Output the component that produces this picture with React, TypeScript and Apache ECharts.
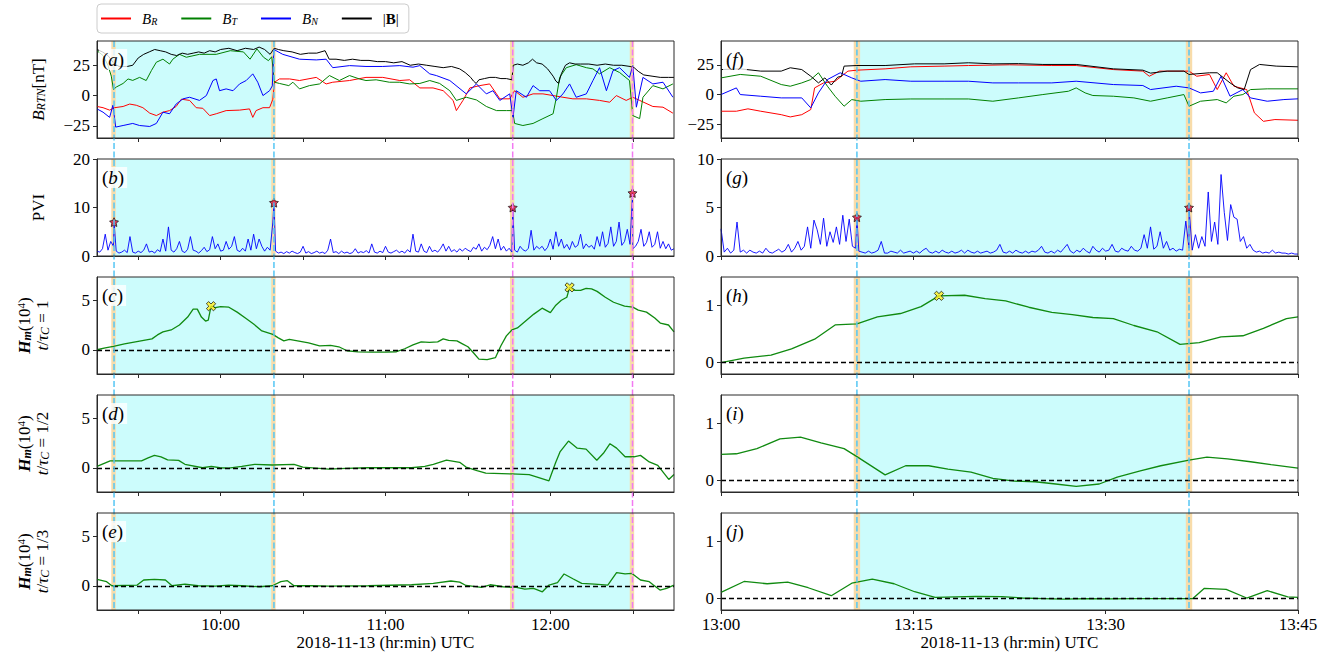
import React, { useEffect, useRef } from 'react';
import * as echarts from 'echarts';

// ---------------- DATA ----------------
// times are minutes of day (2018-11-13 UTC)
const LEFT_RANGE = [555, 765]; // 09:15 - 12:45
const RIGHT_RANGE = [780, 825]; // 13:00 - 13:45
const LEFT_TICKS = [570, 600, 630, 660, 690, 720, 750];
const LEFT_LABELS = [600, 660, 720];
const RIGHT_TICKS = [780, 795, 810, 825];
const RIGHT_LABELS = [780, 795, 810, 825];

const EVENTS_LEFT_BLUE = [561.2, 619.4];
const EVENTS_LEFT_MAGENTA = [706.3, 749.9];
const EVENTS_RIGHT_BLUE = [790.6, 816.5];

// Panel (a)
const BR_L = [[555,-9],[557.2,-10],[559.6,-12],[561.4,-10],[564.5,-9],[566.9,-7],[569.3,-8],[571.7,-10],[574.2,-14.5],[576.6,-16.5],[579,-13.7],[581.4,-12.4],[583.8,-9],[585.7,-3],[588.7,-4],[591.1,-10],[593.5,-10.5],[596,-16.5],[598.4,-15],[602,-12.4],[606.9,-12],[610.5,-11],[611.7,-18],[612.9,-12.4],[615.4,-10],[617.8,-10],[619,-3],[619.6,11],[621.4,13.7],[625.1,13.7],[628.7,12.4],[634.8,15],[638.4,9.6],[640.8,11],[646.9,12.4],[652.9,15],[659,15],[665.2,12.4],[668.8,13],[672.5,6.3],[677.3,6.3],[681,4],[684.6,-4],[685.8,-12.4],[688.2,-4],[690.7,6.3],[694.3,8.2],[697.9,9.6],[700.4,1.4],[701.6,-2.7],[705.2,-2.7],[707,4],[710,-1.4],[713.7,1.4],[717.3,1.4],[721,0],[724.6,-1.4],[728.2,-2.7],[733.1,-2.7],[737.9,-4],[741.6,-5.5],[744,0],[747.6,-4],[750,-1.4],[752.5,-4],[757.3,-9],[761,-9.6],[764.6,-14.5]];
const BT_L = [[555,37],[557.2,33],[559,25],[560.2,16],[561,5],[562,7],[564.5,10],[566.3,13.7],[568,12.5],[570.5,15],[572.9,12.4],[574.8,20.6],[576.6,27.5],[579,30],[581.4,26],[582.6,30],[585,34],[587.5,31.6],[592.3,34],[598.4,34],[603.5,37],[608.3,36],[610.7,30],[613.2,38.5],[615.6,31.6],[617.4,28.8],[618.6,32],[619.6,11],[621.4,10],[624.8,8.2],[626.3,11],[628.7,5.5],[632.3,8.2],[636,9.6],[639.6,16.5],[643.2,12.4],[646.9,16.5],[650.5,13.7],[652.9,12.4],[656.6,13],[661.4,11],[665.2,11],[668.8,9.6],[672.5,10],[676.1,12.4],[679.7,10],[683.4,4],[685.8,-4],[689.4,-1.4],[693.1,-3.6],[696.7,-9],[700.4,-12.4],[704,-12.4],[706.2,-12.4],[707,-23],[710,-24.7],[713.7,-23],[717.3,-19],[721,-15],[722.2,-1.4],[723.4,15],[725.8,23],[729.4,25.5],[733.1,23],[735.5,22],[737.9,17.9],[741.6,23],[745.2,19],[748.8,12.4],[750,-16.5],[752.5,-19],[753.7,-1.4],[757.3,8.2],[761,5.5],[764.6,9.6]];
const BN_L = [[555,-11],[557.2,-13.7],[559.6,-18],[560.8,-8],[561.8,-26],[564.5,-24.7],[568,-23],[570.5,-24.7],[574.2,-25.5],[576.6,-23],[579,-13.7],[581.4,-15],[583.8,-7],[586.3,-2.7],[588.7,-1.4],[592.3,-4],[594.8,0],[597.2,12.4],[598.4,13.7],[599.6,4],[602,5.5],[604.5,4],[606.9,9.6],[609.3,12.4],[611.7,17.9],[613.5,11],[615.4,0],[617.8,4],[618.8,8],[619.4,38],[622.6,34],[628.7,30],[634.8,29.4],[638.4,30],[640.8,23],[646.9,24.7],[652.9,24],[659,24],[665.2,24.7],[670,23.4],[672.5,24.7],[676.1,17.9],[678.5,16.5],[683.4,12.4],[689.4,1.4],[693.1,9.6],[696.7,1.4],[699.1,4],[701.6,-4],[705.2,1.4],[706.4,-18],[707.6,4],[711.3,-1.4],[713.7,8.2],[716.1,4],[719.7,4],[722.2,-4],[724.6,1.4],[727,9.6],[729.4,-1.4],[733.1,1.4],[735.5,12.4],[737.9,23],[740.4,4],[742.8,20.6],[745.2,23],[748.8,15],[750,24.7],[751.3,-9.6],[753.7,15],[757.3,9.6],[761,11],[764.6,-1.4]];
const BMAG_L = [[555,38],[557,36],[559,33],[561,27],[563,24],[566,24],[568,25],[570,31],[572,34],[574,36],[576,38],[578,37],[580,36],[582,34],[584,33],[586,35],[588,34],[590,35],[592,36],[594,35],[596,37],[598,36],[600,38],[603,39],[606,37],[609,39],[612,38],[614,40],[616,38],[618,34],[619.5,39],[621,38],[623,37],[626,36],[629,34],[632,35],[635,35],[638,37],[639.5,30],[642,30],[645,29],[648,30],[651,29],[654,29],[657,28],[660,28],[663,27],[666,28],[669,25],[672,26],[675,25],[678,24],[681,23],[684,24],[687,22],[689,19],[691,15],[692,12],[693,10],[694,13],[696,14],[698,15],[700,15],[702,14],[704,14],[706,13],[706.5,25],[708,26],[710,25],[712,27],[713.5,30],[715,27],[717,26],[719,22],[721,16],[722,12],[723,10],[724,18],[725.5,25],[727,27],[729,26],[731,26],[734,26],[737,25],[740,26],[743,25],[746,25],[749,24],[750.5,23],[752,20],[754,17],[757,16],[760,15],[763,15],[765,15]];

// Panel (f)
const BR_R = [[780,-14],[781.2,-14],[782.1,-12],[783.1,-14],[784.7,-16.9],[785.4,-18.8],[786.3,-16.9],[787,-12.6],[787.3,5.6],[788,9.8],[788.9,11.2],[789.9,19.7],[790.6,20.5],[792.8,21.6],[794.8,23.3],[797.4,23.9],[799.3,24.4],[802.5,25],[805.8,24.4],[807.7,24.4],[810.6,21],[812.9,19.7],[813.4,15.4],[814.2,19.7],[816.5,19.7],[817.1,15.4],[818.1,16.9],[818.7,4.2],[819.4,18.3],[820,7],[821,4.2],[821.6,-15.4],[822.3,-22.5],[823.2,-21],[825,-21.6]];
const BT_R = [[780,14],[781.5,16.9],[783.1,15.4],[784.7,8.4],[785.4,7],[786.3,9.8],[787,12.6],[787.6,18.3],[788.3,7],[788.9,-1.4],[789.6,-9.8],[790.2,-4.2],[790.9,-5.6],[792.8,-4.2],[794.8,-3.7],[797.4,-3.7],[799.3,-3.7],[801.2,-5.6],[803.2,-2.8],[805.1,0],[807.1,2.8],[807.7,5.6],[808.4,1.4],[809,-0.8],[810.6,-1.4],[812.2,-2.8],[813.5,-5.6],[814.8,-2.8],[816.1,0],[816.5,-9.8],[817.4,-5.6],[818.7,-4.2],[819.4,-7],[820,-1.4],[820.7,0],[821.3,4.2],[822.6,4.8],[825,4.8]];
const BN_R = [[780,0],[781.2,5.6],[781.5,0],[783.1,-1.4],[784.7,-2.8],[786.3,-2.8],[787,-11.2],[787.6,1.4],[788.3,12.6],[789.3,18.3],[790.2,14],[790.9,11.2],[792.8,12.6],[794.8,11.2],[797.4,11.2],[799.3,11.2],[801.2,9.8],[803.2,9.8],[805.8,9.8],[807.7,11.2],[810.6,8.4],[812.9,7.6],[813.5,4.2],[815.5,7],[816.5,5.6],[817.4,1.4],[818.4,2.8],[819,15.4],[819.7,-1.4],[820.7,4.2],[821.3,-2.8],[822.6,-5.6],[823.9,-4.2],[825,-3.6]];
const BMAG_R = [[780,21],[781.5,21.6],[783.1,19.7],[784.7,19.7],[785.4,22.5],[786.3,21],[787,15.4],[787.6,9.8],[788.1,14],[788.6,8],[789.1,14.6],[789.4,15.4],[789.6,23.9],[790.6,24.4],[792.8,24.4],[795.1,25.8],[797.4,25.8],[799.3,26.7],[801.2,25.8],[803.2,26],[805.1,25.3],[807.7,25.3],[810.6,21.6],[812.9,20.5],[813.5,18],[814.8,19.7],[816.1,19.7],[816.5,16.9],[818.1,18.3],[818.7,18.3],[819.7,9.8],[820.3,5.6],[820.8,4.2],[821.3,21],[822,25.3],[823.3,23.9],[825,23.3]];

// Panel (b): PVI, one value per minute from 09:15
const PVI_L_START = 555;
const PVI_L_STEP = 1;
const PVI_L = [
  1.0,0.8,1.5,4.5,1.2,3.0,2.0,1.0,0.6,0.8,
  1.2,0.7,4.0,0.8,0.6,1.0,0.7,1.2,2.5,0.8,
  1.0,0.6,1.3,0.9,3.5,1.0,6.0,1.2,0.8,1.5,
  3.0,1.0,0.7,1.4,4.0,1.2,1.0,0.6,1.1,1.8,
  0.9,1.3,4.0,1.5,2.5,1.0,1.2,3.0,1.4,2.0,
  4.0,1.2,0.9,1.6,1.0,3.5,1.2,4.5,1.5,3.5,
  2.0,1.0,1.8,1.2,7.0,1.0,0.6,0.8,0.5,0.9,
  0.6,1.0,0.7,0.5,0.8,2.0,0.6,0.9,0.5,0.7,
  1.0,0.6,0.8,0.5,1.2,3.5,0.7,0.9,0.5,1.0,
  0.6,0.8,0.5,0.7,1.5,0.6,0.9,0.7,1.1,0.6,
  2.5,0.8,0.6,1.0,0.7,2.0,0.8,0.6,0.9,1.2,
  0.7,1.0,0.6,1.3,0.8,4.5,1.0,0.8,2.5,1.0,
  0.7,2.0,0.9,1.2,0.8,1.5,2.5,1.0,2.0,0.9,
  1.3,0.8,1.5,1.0,1.6,1.2,0.9,1.8,1.4,2.5,
  1.0,1.8,1.3,2.2,4.0,1.5,3.5,1.2,2.0,1.0,
  1.6,0.8,1.2,0.8,2.0,1.3,1.0,1.6,5.3,1.2,
  2.0,1.5,2.0,1.1,1.8,3.5,1.4,5.0,2.0,3.5,
  1.6,2.4,1.3,3.0,1.8,2.2,4.5,1.5,2.5,1.8,
  2.2,1.4,4.0,2.0,5.0,1.8,2.6,6.0,2.0,3.0,
  7.0,2.2,3.0,5.5,2.4,1.5,2.0,3.0,5.5,2.0,
  2.8,5.0,1.8,2.4,5.0,1.6,3.0,1.5,2.5,1.2,
  1.5
];
const PVI_STARS_L = [[561.2,7],[619.4,11],[706.3,10],[749.9,13]];

// Panel (g): PVI, one value per 15 s from 13:00
const PVI_R_START = 780;
const PVI_R_STEP = 0.25;
const PVI_R = [
  2.8,0.4,0.8,0.3, 0.6,3.5,0.4,0.6, 0.3,0.6,0.4,0.3, 0.5,0.3,0.8,0.4, 0.3,0.5,0.7,0.4,
  0.6,1.2,0.4,0.8, 1.5,0.6,1.0,3.0, 0.8,3.7,2.7,1.2, 3.9,1.0,2.5,1.4, 3.0,1.2,4.2,1.5,
  3.8,1.0,0.8,0.5, 0.4,0.3,0.5,0.3, 0.4,0.6,1.5,0.3, 0.3,0.5,0.4,0.3, 0.6,0.3,0.4,0.5,
  0.3,0.5,0.3,0.6, 0.8,0.4,0.3,0.5, 0.3,0.6,0.4,0.3, 0.5,0.3,0.4,0.6, 0.3,0.6,0.4,0.3,
  0.5,0.3,0.4,0.5, 0.3,0.4,0.6,1.2, 0.4,0.3,0.5,0.3, 0.6,0.4,0.3,0.5, 0.3,0.5,0.4,0.6,
  1.0,0.4,0.3,0.5, 0.3,0.6,0.4,0.8, 1.2,0.5,0.3,0.6, 0.4,0.8,0.5,0.3, 1.0,0.6,0.4,0.8,
  0.5,0.6,1.2,0.5, 0.4,0.8,0.6,0.5, 1.0,0.6,0.5,0.8, 2.2,0.8,3.0,0.7, 1.0,2.5,0.8,1.5,
  0.6,0.8,0.5,0.7, 0.6,3.6,0.8,0.6, 2.2,0.8,2.0,1.0, 6.6,1.5,3.5,1.2, 8.4,4.5,1.6,5.3,
  4.0,3.8,1.5,2.0, 0.8,1.2,0.6,0.4, 0.5,0.3,0.4,0.3, 0.6,0.3,0.4,0.3, 0.3,0.2,0.3,0.2,
  0.2
];
const PVI_STARS_R = [[790.6,4],[816.5,5]];

// Panels (c)(d)(e): H_m (10^4)
const HM1_L = [[555,0],[558,0.2],[561,0.35],[565,0.6],[569,0.8],[573,1.0],[575,1.1],[577,1.5],[579,1.8],[582,2.0],[585,2.5],[588,3.3],[590,4.1],[591.5,4.1],[593,3.3],[594.5,2.9],[595.5,3.0],[596.5,4.4],[598,4.25],[600,4.35],[603,4.3],[606,3.8],[609,3.2],[612,2.6],[615,1.9],[619,1.55],[621,1.2],[623,0.9],[625,1.05],[628,0.9],[632,0.7],[636,0.4],[640,0.45],[643,0.3],[646,-0.1],[650,-0.22],[655,-0.25],[660,-0.25],[664,-0.2],[667,0.1],[670,0.5],[673,0.8],[676,0.75],[679,0.8],[681,1.1],[683,0.95],[686,0.9],[688,0.6],[690,0.3],[692,-0.3],[694,-0.95],[697,-1.0],[700,-0.8],[702,0.4],[704,1.4],[706,2.0],[708,2.2],[711,2.9],[714,3.6],[717,4.2],[719,3.9],[720,3.75],[722,4.5],[724,5.0],[726,5.3],[727,6.3],[729,6.0],[731,6.0],[733,6.2],[735,6.15],[737,5.9],[740,5.3],[743,4.8],[747,4.4],[750,4.3],[752,4.0],[755,3.8],[758,3.2],[760,2.7],[763,2.5],[765,1.8]];
const HM2_L = [[555,0.14],[559.8,0.7],[571.2,0.7],[573.6,1.0],[575.9,1.25],[578.3,1.1],[580.7,0.8],[584.7,0.75],[587,0.35],[593.4,0],[596.6,0.14],[599.7,0],[602.9,-0.03],[607.7,0.14],[612.4,0.35],[618.8,0.28],[626.7,0.35],[629.9,0.07],[639.4,-0.14],[645.7,-0.07],[653.7,0],[669.5,0],[674.3,0.14],[677.4,0.35],[682.2,0.76],[687,0.55],[689.3,0.07],[693.3,-0.28],[696.5,-0.55],[706,-0.62],[712.3,-0.69],[715.5,-0.97],[719.5,-1.32],[721.9,0.5],[723.5,1.6],[726.6,2.7],[729.8,1.98],[733,1.88],[736.9,0.76],[739.3,1.46],[741.7,2.43],[744.1,1.98],[747.2,1.11],[750.4,1.11],[752.8,1.25],[756,0.59],[759.1,0.24],[763.1,-1.18],[765,-0.69]];
const HM3_L = [[555,0.65],[558.5,0.41],[560.4,0],[569.6,0.07],[572,0.58],[575.9,0.65],[579.9,0.58],[582.3,0],[587,0.17],[591.8,0],[598.1,-0.03],[602.9,0.07],[607.7,0],[614,-0.1],[618.8,0],[621.9,0.41],[624.3,0.51],[626.7,0],[633,0],[639.4,-0.03],[653.7,0],[669.5,0.1],[677.4,0.24],[683.8,0.48],[687,0.37],[689.3,0.03],[694.9,-0.17],[698.1,0.1],[702.8,-0.1],[707.6,-0.17],[710.7,-0.34],[713.9,-0.27],[717.1,-0.61],[719.5,0.07],[722.6,0.31],[725,1.19],[728.2,0.71],[731.4,0.24],[736.1,0.17],[740.9,0.07],[744.1,1.33],[747.2,1.19],[749.6,1.26],[752.8,0.58],[756,0.41],[757.5,0.07],[759.9,-0.44],[762.3,-0.27],[765,0.07]];

// Panels (h)(i)(j)
const HM1_R = [[780,0.0],[781.8,0.08],[783.9,0.13],[785.5,0.24],[787.3,0.41],[788.9,0.66],[790.6,0.68],[792.2,0.80],[794,0.86],[795.6,0.98],[797,1.17],[799,1.18],[800.6,1.12],[802.2,1.08],[804,0.97],[805.8,0.88],[807.4,0.84],[809,0.79],[810.6,0.77],[812.2,0.65],[814,0.54],[815.8,0.32],[817.3,0.35],[819,0.45],[820.7,0.47],[822.3,0.60],[824.1,0.77],[825,0.80]];
const HM2_R = [[780,0.46],[781.2,0.47],[782.8,0.56],[784.6,0.73],[786.2,0.76],[787.8,0.66],[789.6,0.56],[790.6,0.42],[792.8,0.10],[794.4,0.26],[796.2,0.26],[797.7,0.20],[799.5,0.15],[801.2,0.04],[802.9,-0.01],[804.5,-0.02],[806.1,-0.06],[807.7,-0.10],[809.5,-0.06],[810.9,0.06],[812.7,0.17],[814.3,0.26],[816.5,0.36],[817.9,0.41],[819.5,0.38],[821.3,0.33],[822.9,0.28],[825,0.22]];
const HM3_R = [[780,0.11],[781.8,0.30],[783.6,0.26],[785.2,0.29],[786.8,0.19],[788.6,0.05],[790.2,0.27],[791.8,0.34],[793.5,0.26],[795.1,0.12],[796.7,0.02],[798.3,0.03],[799.9,0.04],[801.9,0.035],[803.5,0.01],[805.1,0],[806.7,-0.01],[808.5,0],[810.3,-0.005],[812.1,0],[813.9,0],[815.5,0],[816.8,0],[817.7,0.18],[819.4,0.16],[821,0.01],[822.6,0.14],[824.2,0.03],[825,0.02]];

const HM_MAX_L = [[596.5,4.4],[727,6.3]];
const HM_MAX_R = [[797,1.17]];

// y ranges / ticks
const Y_B_L = [-35, 45];
const Y_B_R = [-36.5, 45];
const Y_B_TICKS = [-25, 0, 25];
const Y_PVI_L = [0, 20];
const Y_PVI_L_TICKS = [0, 10, 20];
const Y_PVI_R = [0, 10];
const Y_PVI_R_TICKS = [0, 5, 10];
const Y_HM_L = [-2.45, 7.35];
const Y_HM_L_TICKS = [0, 5];
const Y_HM_R = [-0.2, 1.5];
const Y_HM_R_TICKS = [0, 1];

const PANEL_LETTERS = ['a', 'b', 'c', 'd', 'e', 'f', 'g', 'h', 'i', 'j'];
const TAU_LABELS = ['1', '1/2', '1/3'];

// ---------------- STYLE / LAYOUT ----------------
const FONT = "'Liberation Serif', 'Times New Roman', Times, serif";
const COLS = [97, 721];
const ROWS = [41, 159, 277, 395, 513];
const PW = 577;
const PH = 97;
const CYAN = '#ccfcfc';
const BAND = '#f8dcaa';
const BLUE_EV = '#55c6f4';
const MAG_EV = '#f27af2';
const AX = '#2a2a2a';

const STAR = 'path://M0,-10 L2.94,-4.05 L9.51,-3.09 L4.76,1.55 L5.88,8.09 L0,5 L-5.88,8.09 L-4.76,1.55 L-9.51,-3.09 L-2.94,-4.05 Z';
const CROSS = 'path://M-1,-3.2 L1,-3.2 L1,-1 L3.2,-1 L3.2,1 L1,1 L1,3.2 L-1,3.2 L-1,1 L-3.2,1 L-3.2,-1 L-1,-1 Z';

const fmtTime = (v: number) => {
  const h = Math.floor(v / 60);
  const m = Math.round(v - h * 60);
  return `${h}:${String(m).padStart(2, '0')}`;
};
const fmtNum = (v: number) => (v < 0 ? '\u2212' + Math.abs(v) : String(v));

const rf = (extra: any) => ({ fontFamily: FONT, color: '#000', ...extra });

const NAME_RICH = {
  n: rf({ fontSize: 17 }),
  i: rf({ fontSize: 17, fontStyle: 'italic' }),
  s: rf({ fontSize: 12, fontStyle: 'italic', verticalAlign: 'bottom' }),
  hb: rf({ fontSize: 17, fontStyle: 'italic', fontWeight: 'bold' }),
  hs: rf({ fontSize: 12, fontStyle: 'italic', fontWeight: 'bold', verticalAlign: 'bottom' }),
  sup: rf({ fontSize: 11, verticalAlign: 'top' }),
};

function buildOption() {
  const grids: any[] = [];
  const xAxes: any[] = [];
  const yAxes: any[] = [];
  const series: any[] = [];

  for (let i = 0; i < 10; i++) {
    const col = i < 5 ? 0 : 1;
    const row = i % 5;
    grids.push({ left: COLS[col], top: ROWS[row], width: PW, height: PH, show: false });
    const xr = col === 0 ? LEFT_RANGE : RIGHT_RANGE;
    xAxes.push({
      gridIndex: i,
      type: 'value',
      min: xr[0],
      max: xr[1],
      axisLine: { show: true, onZero: false, lineStyle: { color: AX, width: 1 } },
      axisTick: { show: true, inside: false, length: 4, lineStyle: { color: AX }, customValues: col === 0 ? LEFT_TICKS : RIGHT_TICKS },
      axisLabel: {
        show: row === 4,
        customValues: col === 0 ? LEFT_LABELS : RIGHT_LABELS,
        formatter: fmtTime,
        fontFamily: FONT,
        fontSize: 17,
        color: '#000',
        margin: 6,
      },
      splitLine: { show: false },
      name: row === 4 ? '2018-11-13 (hr:min) UTC' : '',
      nameLocation: 'middle',
      nameGap: 23,
      nameTextStyle: { fontFamily: FONT, fontSize: 17, color: '#000' },
    });

    let yr: number[];
    let yt: number[];
    let name = '';
    let nameGap = 50;
    if (row === 0) {
      yr = col === 0 ? Y_B_L : Y_B_R;
      yt = Y_B_TICKS;
      if (col === 0) name = '{i|B}{s|RTN}{n|[nT]}';
    } else if (row === 1) {
      yr = col === 0 ? Y_PVI_L : Y_PVI_R;
      yt = col === 0 ? Y_PVI_L_TICKS : Y_PVI_R_TICKS;
      if (col === 0) name = '{n|PVI}';
    } else {
      yr = col === 0 ? Y_HM_L : Y_HM_R;
      yt = col === 0 ? Y_HM_L_TICKS : Y_HM_R_TICKS;
      if (col === 0) {
        name = `{hb|H}{hs|m}{n|(10}{sup|4}{n|)}\n{i|t}{n|/}{i|τ}{s|C}{n| = ${TAU_LABELS[row - 2]}}`;
        nameGap = 46;
      }
    }
    yAxes.push({
      gridIndex: i,
      type: 'value',
      min: yr[0],
      max: yr[1],
      axisLine: { show: true, onZero: false, lineStyle: { color: AX, width: 1 } },
      axisTick: { show: true, inside: false, length: 4, lineStyle: { color: AX }, customValues: yt },
      axisLabel: { customValues: yt, formatter: fmtNum, fontFamily: FONT, fontSize: 17, color: '#000', margin: 7 },
      splitLine: { show: false },
      name,
      nameLocation: 'middle',
      nameRotate: 90,
      nameGap,
      nameTextStyle: { fontFamily: FONT, fontSize: 17, color: '#000', lineHeight: 18, rich: NAME_RICH },
    });

    // shading (cyan intervals + wheat bands around event lines)
    const spans: number[][] = [];
    const evs: number[] = [];
    if (col === 0) {
      spans.push([EVENTS_LEFT_BLUE[0], EVENTS_LEFT_BLUE[1]], [EVENTS_LEFT_MAGENTA[0], EVENTS_LEFT_MAGENTA[1]]);
      evs.push(...EVENTS_LEFT_BLUE, ...EVENTS_LEFT_MAGENTA);
    } else {
      spans.push([EVENTS_RIGHT_BLUE[0], EVENTS_RIGHT_BLUE[1]]);
      evs.push(...EVENTS_RIGHT_BLUE);
    }
    const bw = col === 0 ? [1.0, 0.6] : [0.25, 0.25];
    const areaData: any[] = [];
    spans.forEach(([a, b]) => areaData.push([{ xAxis: a, itemStyle: { color: CYAN } }, { xAxis: b }]));
    evs.forEach((t) => areaData.push([{ xAxis: t - bw[0], itemStyle: { color: BAND } }, { xAxis: t + bw[1] }]));
    series.push({
      type: 'line',
      xAxisIndex: i,
      yAxisIndex: i,
      data: [[xr[0], (yr[0] + yr[1]) / 2]],
      symbol: 'none',
      lineStyle: { opacity: 0 },
      silent: true,
      z: 1,
      markArea: { silent: true, label: { show: false }, data: areaData },
    });
  }

  const line = (gi: number, name: string, data: any, color: string, width = 1, z = 2) => ({
    type: 'line',
    name,
    xAxisIndex: gi,
    yAxisIndex: gi,
    data,
    symbol: 'none',
    showSymbol: false,
    lineStyle: { color, width },
    itemStyle: { color },
    z,
    silent: true,
  });

  // (a) & (f)
  [[0, BR_L, BT_L, BN_L, BMAG_L], [5, BR_R, BT_R, BN_R, BMAG_R]].forEach(([gi, br, bt, bn, bm]: any) => {
    series.push(line(gi, 'BR', br, '#ff0000'));
    series.push(line(gi, 'BT', bt, '#008000'));
    series.push(line(gi, 'BN', bn, '#0000ff'));
    series.push(line(gi, 'B', bm, '#000000'));
  });

  // (b) & (g)
  const pviL = PVI_L.map((v, k) => [PVI_L_START + k * PVI_L_STEP, v]).concat(PVI_STARS_L).sort((a, b) => a[0] - b[0]);
  const pviR = PVI_R.map((v, k) => [PVI_R_START + k * PVI_R_STEP, v]).concat(PVI_STARS_R).sort((a, b) => a[0] - b[0]);
  series.push(line(1, 'PVI', pviL, '#0000ff', 0.9));
  series.push(line(6, 'PVI', pviR, '#0000ff', 0.9));
  [[1, PVI_STARS_L], [6, PVI_STARS_R]].forEach(([gi, d]: any) => {
    series.push({
      type: 'scatter',
      xAxisIndex: gi,
      yAxisIndex: gi,
      data: d,
      symbol: STAR,
      symbolSize: 9,
      itemStyle: { color: '#d8163f', borderColor: '#000', borderWidth: 0.8 },
      z: 6,
      silent: true,
    });
  });

  // Hm panels
  const zero = {
    silent: true,
    symbol: ['none', 'none'],
    label: { show: false },
    lineStyle: { color: '#000', type: [5, 3], width: 1.3 },
    data: [{ yAxis: 0 }],
  };
  [[2, HM1_L], [3, HM2_L], [4, HM3_L], [7, HM1_R], [8, HM2_R], [9, HM3_R]].forEach(([gi, d]: any) => {
    const s: any = line(gi, 'Hm', d, '#108a10', 1.3);
    s.markLine = zero;
    series.push(s);
  });
  [[2, HM_MAX_L], [7, HM_MAX_R]].forEach(([gi, d]: any) => {
    series.push({
      type: 'scatter',
      xAxisIndex: gi,
      yAxisIndex: gi,
      data: d,
      symbol: CROSS,
      symbolRotate: 45,
      symbolSize: 10,
      itemStyle: { color: '#ffec1f', borderColor: '#000', borderWidth: 0.8 },
      z: 6,
      silent: true,
    });
  });

  const LEG: any = {
    BR: '{i|B}{s|R}',
    BT: '{i|B}{s|T}',
    BN: '{i|B}{s|N}',
    B: '{p||}{b|B}{n||}',
  };

  return {
    animation: false,
    backgroundColor: '#ffffff',
    grid: grids,
    xAxis: xAxes,
    yAxis: yAxes,
    legend: {
      left: 97,
      top: 4,
      data: ['BR', 'BT', 'BN', 'B'],
      icon: 'rect',
      itemWidth: 30,
      itemHeight: 2,
      itemGap: 24,
      padding: [7, 10, 7, 4],
      borderColor: '#cccccc',
      borderWidth: 1,
      borderRadius: 4,
      backgroundColor: '#ffffff',
      selectedMode: false,
      formatter: (n: string) => LEG[n],
      textStyle: {
        fontFamily: FONT,
        fontSize: 15,
        color: '#000',
        rich: {
          i: rf({ fontSize: 15, fontStyle: 'italic', padding: [0, 0, 0, 6] }),
          s: rf({ fontSize: 10, fontStyle: 'italic', verticalAlign: 'bottom' }),
          p: rf({ fontSize: 15, padding: [0, 0, 0, 6] }),
          n: rf({ fontSize: 15 }),
          b: rf({ fontSize: 15, fontWeight: 'bold' }),
        },
      },
    },
    series,
  };
}

function buildGraphics(chart: any) {
  const g: any[] = [];
  const top = ROWS[0];
  const bottom = ROWS[4] + PH;
  const vline = (x: number, color: string) => ({
    type: 'line',
    silent: true,
    z: 40,
    shape: { x1: x, y1: top, x2: x, y2: bottom },
    style: { stroke: color, lineWidth: 1.5, lineDash: [6, 2.5] },
  });
  EVENTS_LEFT_BLUE.forEach((t) => g.push(vline(chart.convertToPixel({ xAxisIndex: 0 }, t), BLUE_EV)));
  EVENTS_LEFT_MAGENTA.forEach((t) => g.push(vline(chart.convertToPixel({ xAxisIndex: 0 }, t), MAG_EV)));
  EVENTS_RIGHT_BLUE.forEach((t) => g.push(vline(chart.convertToPixel({ xAxisIndex: 5 }, t), BLUE_EV)));

  for (let i = 0; i < 10; i++) {
    const col = i < 5 ? 0 : 1;
    const row = i % 5;
    g.push({
      type: 'rect',
      silent: true,
      z: 50,
      shape: { x: COLS[col], y: ROWS[row], width: PW, height: PH },
      style: { fill: 'none', stroke: AX, lineWidth: 1 },
    });
    g.push({
      type: 'text',
      silent: true,
      z: 45,
      x: COLS[col] + 2,
      y: ROWS[row] + 8,
      style: {
        text: `{n|(}{i|${PANEL_LETTERS[i]}}{n|)}`,
        fontFamily: FONT,
        fontSize: 19,
        fill: '#000',
        backgroundColor: 'rgba(255,255,255,0.78)',
        padding: [1, 3, 1, 3],
        rich: {
          n: { fontFamily: FONT, fontSize: 19, fill: '#000', color: '#000' },
          i: { fontFamily: FONT, fontSize: 19, fontStyle: 'italic', fill: '#000', color: '#000' },
        },
      },
    });
  }
  return g;
}

export default function App() {
  const ref = useRef<HTMLDivElement>(null);
  useEffect(() => {
    if (!ref.current) return;
    const chart = echarts.init(ref.current, null, { renderer: 'svg' });
    chart.setOption(buildOption() as any);
    chart.setOption({ graphic: buildGraphics(chart) } as any);
    return () => chart.dispose();
  }, []);
  return (
    <div
      ref={ref}
      style={{ position: 'fixed', left: 0, top: 0, width: 1331, height: 652, background: '#fff' }}
    />
  );
}
